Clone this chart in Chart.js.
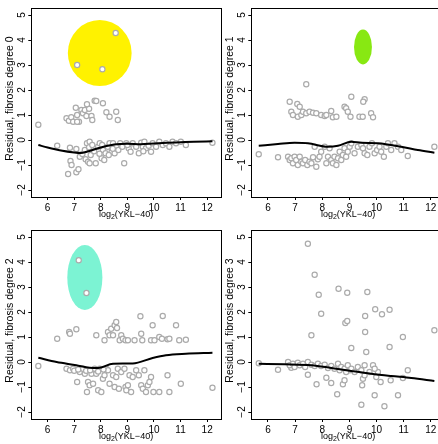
<!DOCTYPE html>
<html>
<head>
<meta charset="utf-8">
<script src="https://cdn.jsdelivr.net/npm/chart.js@4.4.1/dist/chart.umd.min.js"></script>
<style>
  html, body { margin: 0; padding: 0; background: #fff; overflow: hidden; }
  body { width: 438px; height: 444px; position: relative; }
  canvas { position: absolute; }
</style>
</head>
<body>
<canvas id="deg0" width="226" height="222" style="left:0;top:0"></canvas>
<canvas id="deg1" width="230" height="222" style="left:220px;top:0"></canvas>
<canvas id="deg2" width="226" height="222" style="left:0;top:222px"></canvas>
<canvas id="deg3" width="230" height="222" style="left:220px;top:222px"></canvas>
<script>
// axis ticks shared by all four panels
const xTicks = [6, 7, 8, 9, 10, 11, 12];
const yTicks = [-2, -1, 0, 1, 2, 3, 4, 5];
const xRange = [5.386, 12.514];
const yRange = [-2.28, 5.28];

const yTitles = [
  'Residual, fibrosis degree 0',
  'Residual, fibrosis degree 1',
  'Residual, fibrosis degree 2',
  'Residual, fibrosis degree 3'
];

// residuals vs log2(YKL-40), one array of [x, y] per fibrosis degree
const degree0Points = [
  [7.11, 3.0], [8.06, 2.83], [8.56, 4.28],
  [5.65, 0.61], [6.71, 0.87], [6.80, 0.77], [6.89, 0.91], [6.96, 0.73], [7.06, 1.29], [7.11, 1.0],
  [7.18, 0.73], [7.27, 1.2], [7.33, 1.07], [7.40, 1.2], [7.46, 0.96], [7.56, 1.25], [7.48, 1.43],
  [7.65, 0.96], [7.68, 0.8], [7.77, 1.57], [7.83, 1.56], [8.08, 1.47], [8.21, 1.11], [8.33, 0.93],
  [8.58, 1.13], [8.64, 0.8], [7.11, 0.73],
  [6.36, -0.23], [6.84, -0.31], [7.08, -0.36], [6.86, -0.84], [6.90, -1.0], [6.77, -1.36], [7.08, -1.29],
  [7.16, -1.17], [7.21, -0.67], [7.31, -0.56], [7.40, -0.40], [7.48, -0.13], [7.56, -0.29], [7.58, -0.07],
  [7.68, -0.20], [7.43, -0.77], [7.52, -0.87], [7.58, -0.93], [7.81, -0.93], [7.90, -0.27], [7.96, -0.13],
  [8.03, -0.73], [8.08, -0.40], [8.13, -0.80], [8.18, -0.53], [8.26, -0.27], [8.33, -0.13], [8.41, -0.47],
  [8.46, -0.13], [8.52, -0.53], [8.58, -0.27], [8.66, -0.40], [8.73, -0.13], [8.81, -0.27], [8.88, -0.93],
  [8.96, -0.13], [9.05, -0.33], [9.12, -0.47], [9.20, -0.13], [9.33, -0.27], [9.43, -0.53], [9.52, -0.11],
  [9.58, -0.27], [9.64, -0.07], [9.70, -0.33], [9.80, -0.23], [9.89, -0.47], [9.95, -0.13], [10.08, -0.27],
  [10.20, -0.07], [10.33, -0.20], [10.45, -0.13], [10.58, -0.27], [10.70, -0.07], [10.83, -0.13],
  [11.01, -0.07], [11.20, -0.20], [12.20, -0.11],
  [7.62, -0.6], [7.75, -0.45], [7.95, -0.55], [8.05, -0.2], [8.30, -0.6], [8.45, -0.35], [9.00, -0.2], [9.60, -0.45]
];

const degree1Points = [
  [5.66, -0.57], [6.37, -0.69], [6.80, 1.53], [7.41, 2.23], [9.07, 1.73], [9.56, 1.63], [9.51, 1.53],
  [6.86, 1.13], [6.92, 1.0], [7.08, 1.44], [7.10, 0.93], [7.17, 1.33], [7.23, 1.0], [7.29, 1.13],
  [7.41, 1.07], [7.53, 1.13], [7.66, 1.09], [7.78, 1.07], [7.96, 1.0], [8.09, 0.96], [8.15, 1.0],
  [8.33, 1.16], [8.39, 0.91], [8.52, 0.93], [8.82, 1.33], [8.88, 1.27], [8.94, 1.13], [9.04, 0.93],
  [9.37, 0.93], [9.49, 0.93], [9.80, 1.07], [9.87, 0.91],
  [6.74, -0.67], [6.80, -0.8], [6.86, -0.73], [6.92, -0.93], [6.98, -0.67], [7.04, -0.8], [7.10, -1.0],
  [7.17, -0.67], [7.23, -0.87], [7.29, -0.93], [7.37, -0.8], [7.45, -1.0], [7.53, -0.87], [7.60, -0.93],
  [7.66, -0.69], [7.78, -1.07], [7.84, -0.77], [7.72, -0.27], [7.90, -0.67], [7.96, -0.47], [8.09, -0.27],
  [8.15, -0.93], [8.21, -0.67], [8.27, -0.33], [8.33, -0.8], [8.39, -0.93], [8.45, -0.67], [8.52, -1.0],
  [8.58, -0.73], [8.64, -0.47], [8.70, -0.8], [8.76, -0.6], [8.82, -0.33], [8.88, -0.67], [8.94, -0.47],
  [9.01, -0.27], [9.07, -0.13], [9.19, -0.53], [9.31, -0.27], [9.44, -0.2], [9.50, -0.33], [9.56, -0.53],
  [9.66, -0.6], [9.74, -0.27], [9.83, -0.13], [9.93, -0.53], [10.02, -0.4], [10.11, -0.27], [10.17, -0.47],
  [10.27, -0.67], [10.36, -0.27], [10.42, -0.13], [10.54, -0.4], [10.66, -0.13], [10.79, -0.27],
  [10.91, -0.4], [11.15, -0.64], [12.13, -0.27]
];

const degree2Points = [
  [7.17, 4.07], [7.46, 2.76],
  [6.36, 0.93], [6.81, 1.2], [6.84, 1.13], [7.08, 1.31], [7.83, 1.07], [8.14, 0.87], [8.27, 1.2],
  [8.33, 1.07], [8.39, 1.33], [8.46, 1.07], [8.52, 1.47], [8.58, 1.6], [8.61, 1.36], [8.71, 0.87],
  [8.77, 1.07], [8.83, 0.93], [8.93, 0.87], [9.02, 0.87], [9.27, 0.87], [9.52, 1.13], [9.49, 1.83],
  [9.56, 0.87], [9.89, 0.87], [9.95, 1.47], [10.02, 0.87], [10.2, 1.0], [10.33, 1.84], [10.30, 0.93],
  [10.51, 0.91], [10.58, 0.93], [10.83, 1.47], [10.95, 0.87], [11.2, 0.89],
  [5.65, -0.16], [6.71, -0.27], [6.84, -0.33], [6.96, -0.27], [7.11, -0.8], [7.21, -0.4], [7.33, -0.27],
  [7.40, -0.47], [7.48, -1.2], [7.52, -0.8], [7.58, -0.93], [7.65, -0.47], [7.71, -0.87], [7.77, -0.27],
  [7.83, -0.47], [7.90, -1.13], [7.96, -0.27], [8.02, -1.2], [8.08, -0.67], [8.14, -0.53], [8.21, -0.27],
  [8.27, -0.33], [8.33, -0.87], [8.46, -0.53], [8.52, -1.0], [8.58, -0.6], [8.64, -0.27], [8.68, -1.07],
  [8.77, -0.4], [8.89, -0.27], [8.93, -1.0], [8.96, -1.13], [9.02, -0.93], [9.08, -0.53], [9.14, -1.2],
  [9.2, -0.6], [9.33, -0.33], [9.43, -0.53], [9.52, -0.93], [9.58, -1.07], [9.64, -0.33], [9.70, -1.2],
  [9.77, -0.93], [9.83, -0.8], [9.89, -0.6], [9.98, -1.2], [10.2, -1.2], [10.51, -0.53], [10.58, -1.2],
  [11.01, -0.87], [12.2, -1.03],
  [7.0, -0.35], [7.15, -0.3], [7.45, -0.35], [7.6, -0.33], [7.9, -0.38], [8.1, -0.3]
];

const degree3Points = [
  [7.47, 4.73], [7.72, 3.49], [7.87, 2.69], [8.60, 2.93], [8.92, 2.77], [9.66, 2.8], [7.96, 1.93],
  [8.85, 1.56], [8.92, 1.64], [9.58, 1.84], [9.95, 2.11], [10.2, 1.91], [10.48, 2.09], [7.60, 1.07],
  [9.58, 1.2], [10.97, 1.0], [12.13, 1.27], [9.07, 0.56], [9.62, 0.4], [10.48, 0.6],
  [5.66, -0.05], [6.37, -0.31], [6.86, -0.23], [7.47, -0.51], [7.79, -0.89], [8.15, -0.63], [8.33, -0.84],
  [8.55, -1.29], [8.76, -0.89], [8.82, -0.73], [9.01, -0.33], [9.44, -1.71], [9.47, -0.93], [9.50, -0.67],
  [9.56, -0.53], [9.93, -1.33], [9.99, -0.6], [10.05, -0.4], [10.15, -0.8], [10.29, -1.77], [10.52, -0.73],
  [10.79, -1.33], [11.15, -0.33], [10.97, -0.64],
  [6.74, 0.0], [6.80, -0.13], [6.92, -0.07], [6.98, -0.2], [7.10, -0.03], [7.17, -0.13], [7.29, -0.07],
  [7.37, -0.2], [7.47, 0.0], [7.60, -0.11], [7.72, -0.16], [7.84, -0.07], [7.96, -0.16], [8.09, -0.11],
  [8.21, -0.24], [8.33, -0.16], [8.45, -0.27], [8.58, -0.07], [8.64, -0.33], [8.70, -0.2], [8.82, -0.27],
  [8.88, -0.4], [8.94, -0.13], [9.07, -0.27], [9.19, -0.4], [9.31, -0.2], [9.44, -0.33], [9.56, -0.13],
  [9.74, -0.4], [9.87, -0.13], [9.93, -0.27]
];

// smoothed residual curves
const degree0Fit = [
  [5.65, -0.2], [6.0, -0.3], [6.5, -0.42], [7.0, -0.5], [7.25, -0.52], [7.5, -0.46], [8.0, -0.3],
  [8.5, -0.18], [9.0, -0.15], [9.5, -0.17], [10.0, -0.14], [10.5, -0.11], [11.0, -0.09], [11.5, -0.07], [12.2, -0.05]
];
const degree1Fit = [
  [5.66, -0.23], [6.37, -0.16], [6.98, -0.11], [7.47, -0.13], [8.21, -0.27], [8.58, -0.23], [9.07, -0.07],
  [9.44, -0.11], [10.05, -0.13], [10.91, -0.27], [11.52, -0.4], [12.13, -0.51]
];
const degree2Fit = [
  [5.65, 0.17], [6.34, 0.0], [7.08, -0.13], [7.58, -0.23], [7.9, -0.24], [8.46, -0.07], [9.2, -0.06],
  [9.95, 0.16], [10.45, 0.27], [11.2, 0.33], [12.2, 0.37]
];
const degree3Fit = [
  [5.66, -0.07], [6.61, -0.09], [7.6, -0.13], [8.33, -0.24], [9.07, -0.36], [9.8, -0.47], [10.54, -0.56],
  [11.28, -0.64], [12.13, -0.76]
];

// highlighted regions: centre x, centre y, radius x, radius y (data units)
const ellipseCx = [7.96, 9.50, 7.40, null];
const ellipseCy = [3.48, 3.72, 3.38, null];
const ellipseRx = [1.20, 0.33, 0.66, null];
const ellipseRy = [1.32, 0.70, 1.30, null];
const ellipseColors = ['#fff200', '#88e812', '#7cf3d3', null];

const pointSets = [degree0Points, degree1Points, degree2Points, degree3Points];
const fitSets = [degree0Fit, degree1Fit, degree2Fit, degree3Fit];

const FONT = "'Liberation Sans', Arial, Helvetica, sans-serif";

const panelDecor = {
  id: 'panelDecor',
  beforeDatasetsDraw(chart, args, opts) {
    if (opts.cx == null) return;
    const { x, y } = chart.scales;
    const ctx = chart.ctx;
    const cx = x.getPixelForValue(opts.cx);
    const cy = y.getPixelForValue(opts.cy);
    const rx = Math.abs(x.getPixelForValue(opts.cx + opts.rx) - cx);
    const ry = Math.abs(y.getPixelForValue(opts.cy + opts.ry) - cy);
    ctx.save();
    ctx.fillStyle = opts.color;
    ctx.beginPath();
    ctx.ellipse(cx, cy, rx, ry, 0, 0, Math.PI * 2);
    ctx.fill();
    ctx.restore();
  },
  afterDraw(chart, args, opts) {
    const { ctx, chartArea: a } = chart;
    const y = chart.scales.y;
    ctx.save();
    ctx.strokeStyle = '#000';
    ctx.lineWidth = 1;
    ctx.strokeRect(Math.round(a.left) + 0.5, Math.round(a.top) + 0.5,
      Math.round(a.right - a.left), Math.round(a.bottom - a.top));

    // rotated y tick labels
    ctx.fillStyle = '#000';
    ctx.font = '10px ' + FONT;
    ctx.textAlign = 'center';
    ctx.textBaseline = 'middle';
    yTicks.forEach(v => {
      ctx.save();
      ctx.translate(a.left - 9, y.getPixelForValue(v));
      ctx.rotate(-Math.PI / 2);
      ctx.fillText(String(v).replace('-', '\u2212'), 0, 0);
      ctx.restore();
    });

    // y title
    ctx.save();
    ctx.font = '10.5px ' + FONT;
    ctx.translate(a.left - 21, (a.top + a.bottom) / 2 - 4);
    ctx.rotate(-Math.PI / 2);
    ctx.fillText(opts.yTitle, 0, 0);
    ctx.restore();

    // x title with subscript
    const big = '9px ' + FONT, small = '7px ' + FONT;
    ctx.font = big;
    const w1 = ctx.measureText('log').width;
    const w3 = ctx.measureText('(YKL\u221240)').width;
    ctx.font = small;
    const w2 = ctx.measureText('2').width;
    let tx = (a.left + a.right) / 2 - (w1 + w2 + w3) / 2;
    const ty = a.bottom + 18;
    ctx.textAlign = 'left';
    ctx.font = big;
    ctx.fillText('log', tx, ty);
    ctx.font = small;
    ctx.fillText('2', tx + w1, ty + 2.5);
    ctx.font = big;
    ctx.fillText('(YKL\u221240)', tx + w1 + w2, ty);
    ctx.restore();
  }
};

function makePanel(id, i) {
  const right = id === 'deg1' || id === 'deg3';
  new Chart(document.getElementById(id), {
    type: 'scatter',
    data: {
      datasets: [
        {
          data: fitSets[i].map(p => ({ x: p[0], y: p[1] })),
          showLine: true,
          borderColor: '#000',
          borderWidth: 2,
          pointRadius: 0,
          cubicInterpolationMode: 'monotone'
        },
        {
          data: pointSets[i].map(p => ({ x: p[0], y: p[1] })),
          showLine: false,
          pointRadius: 2.6,
          pointBorderWidth: 1.2,
          pointBorderColor: '#ababab',
          pointBackgroundColor: '#ffffff'
        }
      ]
    },
    options: {
      responsive: false,
      animation: false,
      events: [],
      layout: { padding: { left: 0, top: 8, right: right ? 5 : 4.3, bottom: 0 } },
      plugins: {
        legend: { display: false },
        tooltip: { enabled: false },
        panelDecor: {
          cx: ellipseCx[i], cy: ellipseCy[i], rx: ellipseRx[i], ry: ellipseRy[i],
          color: ellipseColors[i], yTitle: yTitles[i]
        }
      },
      scales: {
        x: {
          type: 'linear',
          min: xRange[0],
          max: xRange[1],
          afterBuildTicks: s => { s.ticks = xTicks.map(v => ({ value: v })); },
          afterFit: s => { s.height = 25; },
          grid: { drawOnChartArea: false, drawTicks: true, tickLength: 3, color: '#000' },
          border: { display: false },
          ticks: {
            color: '#000', font: { family: FONT, size: 10 }, padding: 2,
            maxRotation: 0, autoSkip: false, callback: v => String(v)
          }
        },
        y: {
          type: 'linear',
          min: yRange[0],
          max: yRange[1],
          afterBuildTicks: s => { s.ticks = yTicks.map(v => ({ value: v })); },
          afterFit: s => { s.width = 31.3; },
          grid: { drawOnChartArea: false, drawTicks: true, tickLength: 3, color: '#000' },
          border: { display: false },
          ticks: { display: false }
        }
      }
    },
    plugins: [panelDecor]
  });
}

['deg0', 'deg1', 'deg2', 'deg3'].forEach(makePanel);
</script>
</body>
</html>
